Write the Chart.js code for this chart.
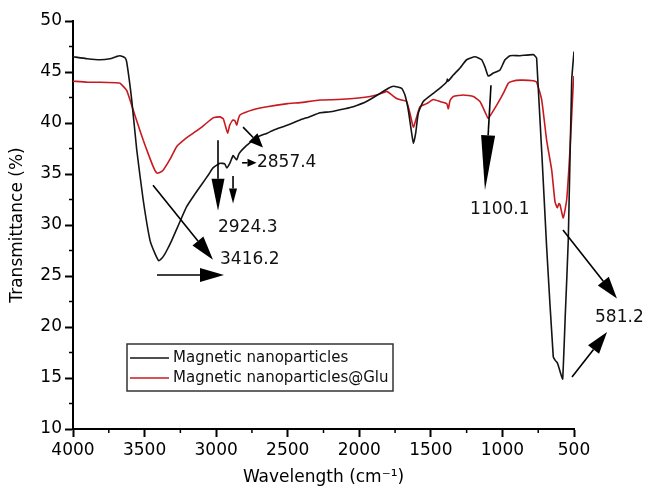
<!DOCTYPE html>
<html>
<head>
<meta charset="utf-8">
<script src="https://cdn.jsdelivr.net/npm/chart.js@4.4.0/dist/chart.umd.min.js"></script>
<style>
    html, body { margin: 0; padding: 0; background: #fff; }
</style>
</head>
<body>
<canvas id="graficoFTIR" width="647" height="489"></canvas>
<script>
const ondaNano = [4000, 3900, 3811, 3742, 3700, 3672, 3637, 3625, 3590, 3555, 3510, 3462, 3427, 3400, 3370, 3345, 3310, 3260, 3206, 3150, 3100, 3050, 3022, 2973, 2940, 2926, 2903, 2882, 2870, 2856, 2840, 2787, 2742, 2700, 2644, 2600, 2500, 2413, 2350, 2274, 2204, 2100, 2042, 1950, 1855, 1797, 1762, 1704, 1681, 1658, 1634, 1622, 1606, 1588, 1553, 1483, 1430, 1389, 1385, 1380, 1343, 1296, 1250, 1192, 1145, 1122, 1099, 1063, 1017, 982, 947, 877, 784, 761, 691, 645, 630, 617, 605, 590, 579, 560, 540, 516, 500];
const transNano = [46.5, 46.3, 46.2, 46.3, 46.5, 46.6, 46.4, 46.0, 42.3, 37.4, 32.5, 28.5, 27.2, 26.5, 26.9, 27.5, 28.5, 30.1, 31.8, 33.0, 34.0, 35.0, 35.6, 36.05, 36.0, 35.6, 36.1, 36.8, 36.6, 36.4, 37.0, 37.8, 38.3, 38.7, 39.0, 39.3, 39.8, 40.3, 40.6, 41.0, 41.1, 41.4, 41.6, 42.1, 42.9, 43.4, 43.6, 43.4, 42.75, 41.3, 39.0, 38.0, 39.0, 40.95, 42.1, 42.9, 43.5, 44.05, 44.3, 44.1, 44.7, 45.4, 46.2, 46.5, 46.2, 45.5, 44.6, 44.9, 45.2, 46.2, 46.6, 46.6, 46.7, 46.35, 27.8, 17.1, 16.7, 16.5, 16.0, 15.3, 14.9, 21.5, 28.5, 44.2, 47.0];

const ondaGlu = [4000, 3900, 3811, 3700, 3672, 3625, 3580, 3545, 3509, 3475, 3439, 3415, 3395, 3369, 3320, 3275, 3220, 3160, 3100, 3022, 2973, 2950, 2935, 2919, 2905, 2882, 2868, 2856, 2845, 2833, 2742, 2644, 2500, 2413, 2274, 2150, 2042, 1925, 1855, 1808, 1773, 1739, 1704, 1669, 1646, 1622, 1599, 1576, 1529, 1483, 1436, 1389, 1378, 1366, 1343, 1273, 1203, 1157, 1122, 1099, 1075, 1040, 994, 959, 930, 877, 784, 761, 726, 691, 656, 633, 617, 605, 598, 575, 551, 528, 505, 500];
const transGlu = [44.1, 44.0, 44.0, 43.95, 43.9, 43.2, 41.3, 39.8, 38.3, 37.0, 35.7, 35.1, 35.15, 35.4, 36.5, 37.7, 38.4, 39.0, 39.6, 40.5, 40.6, 40.4, 39.7, 39.0, 39.8, 40.3, 40.2, 39.8, 40.4, 40.8, 41.3, 41.6, 41.9, 42.0, 42.25, 42.3, 42.4, 42.6, 42.85, 43.1, 42.75, 42.4, 42.25, 42.1, 40.95, 39.6, 40.6, 41.6, 41.9, 42.3, 42.1, 41.9, 41.4, 42.2, 42.6, 42.75, 42.6, 42.1, 41.1, 40.45, 40.95, 41.75, 42.9, 43.9, 44.1, 44.2, 44.15, 44.0, 42.3, 38.3, 35.4, 32.3, 31.7, 32.1, 32.0, 30.7, 32.5, 37.4, 43.9, 44.6];

const series = ['Magnetic nanoparticles', 'Magnetic nanoparticles@Glu'];

// Etiquetas de picos y flechas (en unidades de los ejes)
const picos = ['3416.2', '2924.3', '2857.4', '1100.1', '581.2'];
const picosX = [2973, 2987, 2715, 1226, 353];
const picosY = [26.57, 29.7, 36.08, 31.47, 20.88];

const flechasDesde = [[3441, 33.9], [3413, 25.1], [2987, 38.3], [2882, 34.8], [2812, 39.6], [2819, 36.1], [1080, 43.7], [577, 29.5], [514, 15.1]];
const flechasHasta = [[3022, 26.6], [2945, 25.1], [2987, 31.4], [2882, 32.1], [2673, 37.6], [2718, 36.1], [1122, 33.4], [200, 22.8], [269, 19.5]];

const fuente = '"DejaVu Sans", sans-serif';
const colores = ['#141414', '#c8191e'];

function puntos(xs, ys) {
    return xs.map((x, i) => ({ x: x, y: ys[i] }));
}

function flecha(ctx, x1, y1, x2, y2, largo, medio) {
    const ang = Math.atan2(y2 - y1, x2 - x1);
    const bx = x2 - largo * Math.cos(ang);
    const by = y2 - largo * Math.sin(ang);
    ctx.beginPath();
    ctx.moveTo(x1, y1);
    ctx.lineTo(bx, by);
    ctx.stroke();
    ctx.beginPath();
    ctx.moveTo(x2, y2);
    ctx.lineTo(bx + medio * Math.sin(ang), by - medio * Math.cos(ang));
    ctx.lineTo(bx - medio * Math.sin(ang), by + medio * Math.cos(ang));
    ctx.closePath();
    ctx.fill();
}

// tamaño de cabeza de cada flecha [largo, medio ancho]
const cabezas = [[24, 7], [24, 7], [32, 6.5], [15, 4], [14, 6], [9, 4], [55, 7], [22, 7], [22, 7]];

const extras = {
    id: 'extras',
    afterDraw(chart) {
        const ctx = chart.ctx;
        const sx = chart.scales.x;
        const sy = chart.scales.y;
        const area = chart.chartArea;
        ctx.save();

        // marcas menores
        ctx.strokeStyle = '#000';
        ctx.lineWidth = 1.5;
        for (let v = 12.5; v < 50; v += 5) {
            const py = sy.getPixelForValue(v);
            ctx.beginPath(); ctx.moveTo(area.left - 4, py); ctx.lineTo(area.left, py); ctx.stroke();
        }
        for (let v = 750; v < 4000; v += 500) {
            const px = sx.getPixelForValue(v);
            ctx.beginPath(); ctx.moveTo(px, area.bottom); ctx.lineTo(px, area.bottom + 4); ctx.stroke();
        }

        // flechas
        ctx.strokeStyle = '#000';
        ctx.fillStyle = '#000';
        ctx.lineWidth = 1.6;
        flechasDesde.forEach((d, i) => {
            const h = flechasHasta[i];
            flecha(ctx,
                sx.getPixelForValue(d[0]), sy.getPixelForValue(d[1]),
                sx.getPixelForValue(h[0]), sy.getPixelForValue(h[1]),
                cabezas[i][0], cabezas[i][1]);
        });

        // etiquetas
        ctx.font = '17px ' + fuente;
        ctx.textAlign = 'left';
        ctx.textBaseline = 'middle';
        ctx.fillStyle = '#111';
        picos.forEach((t, i) => {
            ctx.fillText(t, sx.getPixelForValue(picosX[i]), sy.getPixelForValue(picosY[i]));
        });

        // leyenda
        const lx = area.left + 54, ly = area.top + 323;
        ctx.strokeStyle = '#333';
        ctx.lineWidth = 1.5;
        ctx.strokeRect(lx, ly, 266, 47);
        ctx.font = '15px ' + fuente;
        series.forEach((s, i) => {
            const y = ly + 14 + i * 20;
            ctx.strokeStyle = colores[i];
            ctx.beginPath(); ctx.moveTo(lx + 3, y); ctx.lineTo(lx + 42, y); ctx.stroke();
            ctx.fillStyle = '#111';
            ctx.fillText(s, lx + 46, y);
        });
        ctx.restore();
    }
};

const ejeComun = {
    grid: { drawOnChartArea: false, tickLength: 8, tickWidth: 2, tickColor: '#000' },
    border: { color: '#000', width: 2 },
};

new Chart(document.getElementById('graficoFTIR').getContext('2d'), {
    type: 'line',
    data: {
        datasets: [{
            label: series[0],
            data: puntos(ondaNano, transNano),
            borderColor: colores[0],
            borderWidth: 1.6,
            pointRadius: 0,
            tension: 0.15
        }, {
            label: series[1],
            data: puntos(ondaGlu, transGlu),
            borderColor: colores[1],
            borderWidth: 1.6,
            pointRadius: 0,
            tension: 0.15
        }]
    },
    options: {
        responsive: false,
        animation: false,
        layout: { padding: { top: 21, right: 73, left: 0, bottom: 0 } },
        plugins: { legend: { display: false }, tooltip: { enabled: false } },
        scales: {
            x: {
                type: 'linear',
                reverse: true,
                min: 500,
                max: 4000,
                ...ejeComun,
                ticks: { stepSize: 500, color: '#000', padding: 3, maxRotation: 0, font: { family: fuente, size: 17 }, callback: v => String(v) },
                title: { display: true, text: 'Wavelength (cm⁻¹)', color: '#000', padding: { top: 0, bottom: 1 }, font: { family: fuente, size: 17 } },
                afterFit: s => { s.height = 60; }
            },
            y: {
                min: 10,
                max: 50,
                ...ejeComun,
                ticks: { stepSize: 5, color: '#000', padding: 3, font: { family: fuente, size: 17 }, callback: v => String(v) },
                title: { display: true, text: 'Transmittance (%)', color: '#000', padding: { top: 7, bottom: 0 }, font: { family: fuente, size: 17 } },
                afterFit: s => { s.width = 73; }
            }
        }
    },
    plugins: [extras]
});
</script>
</body>
</html>
